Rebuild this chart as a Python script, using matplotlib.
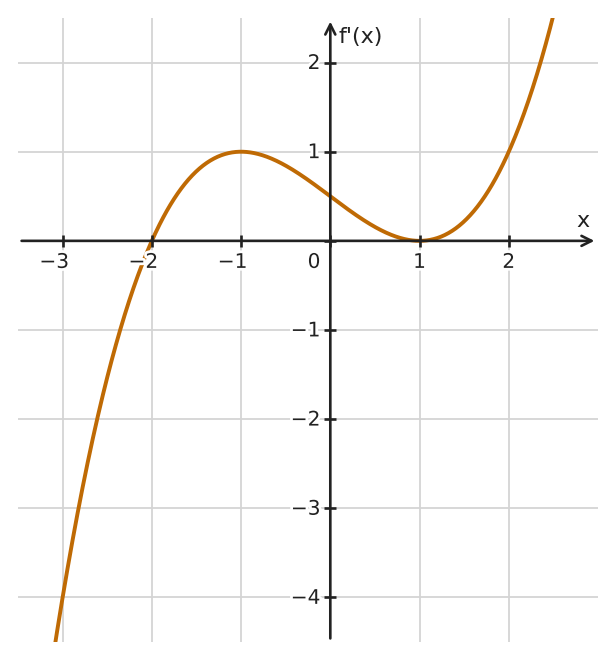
import numpy as np
import matplotlib
matplotlib.use("Agg")
import matplotlib.pyplot as plt
import matplotlib.patheffects as pe
from matplotlib.transforms import offset_copy

# f'(x) = k * (x - r1)(x - r2)(x - r3)
roots = [-2.0, 1.0, 1.0]
scale = 0.25
x_ticks = [-3, -2, -1, 1, 2]
y_ticks = [-4, -3, -2, -1, 1, 2]
x_tick_labels = ["\u22123", "\u22122", "\u22121", "1", "2"]
y_tick_labels = ["\u22124", "\u22123", "\u22122", "\u22121", "1", "2"]

curve_color = "#bf6a04"
axis_color = "#222222"
grid_color = "#d4d4d4"

fig = plt.figure(figsize=(6.16, 6.61), dpi=100)
ax = fig.add_axes([18/616, 19/661, 580/616, 624/661])
ax.set_xlim(-3.5, 3.0)
ax.set_ylim(-4.5, 2.5)
for s in ax.spines.values():
    s.set_visible(False)
ax.set_xticks([])
ax.set_yticks([])

# grid
for gx in [-3, -2, -1, 1, 2]:
    ax.axvline(gx, color=grid_color, lw=1.3, zorder=0)
for gy in [-4, -3, -2, -1, 1, 2]:
    ax.axhline(gy, color=grid_color, lw=1.3, zorder=0)

# curve
xs = np.linspace(-3.5, 3.0, 800)
coeffs = scale * np.poly(roots)
ys = np.polyval(coeffs, xs)
ax.plot(xs, ys, color=curve_color, lw=2.8, zorder=3, solid_capstyle='butt')

# axes with arrows
ax.annotate('', xy=(2.96, 0), xytext=(-3.46, 0),
            arrowprops=dict(arrowstyle='->', lw=1.9, color=axis_color,
                            mutation_scale=18, shrinkA=0, shrinkB=0), zorder=4)
ax.annotate('', xy=(0, 2.46), xytext=(0, -4.46),
            arrowprops=dict(arrowstyle='->', lw=1.9, color=axis_color,
                            mutation_scale=18, shrinkA=0, shrinkB=0), zorder=4)

# tick marks
ax.plot(x_ticks + [0], [0]*(len(x_ticks)+1), linestyle='none', marker='|',
        markersize=9, markeredgewidth=1.9, color=axis_color, zorder=4)
ax.plot([0]*(len(y_ticks)+1), y_ticks + [0], linestyle='none', marker='_',
        markersize=9, markeredgewidth=1.9, color=axis_color, zorder=4)

halo = [pe.withStroke(linewidth=4, foreground='white')]
fs = 14.5
half_digit = 0.318 * fs  # points; center the digit (not the minus) on the tick
for v, lab in zip(x_ticks, x_tick_labels):
    if lab.startswith("\u2212"):
        tr = offset_copy(ax.transData, fig=fig, x=half_digit, y=0, units='points')
        ax.text(v, -0.303, lab, ha='right', va='baseline', fontsize=fs,
                color=axis_color, path_effects=halo, zorder=5, transform=tr)
    else:
        ax.text(v, -0.303, lab, ha='center', va='baseline', fontsize=fs,
                color=axis_color, path_effects=halo, zorder=5)
for v, lab in zip(y_ticks, y_tick_labels):
    ax.text(-0.11, v + 0.012, lab, ha='right', va='center_baseline', fontsize=fs,
            color=axis_color, path_effects=halo, zorder=5)
ax.text(-0.11, -0.303, "0", ha='right', va='baseline', fontsize=fs,
        color=axis_color, path_effects=halo, zorder=5)

ax.text(2.83, 0.22, "x", ha='center', va='center', fontsize=16, color=axis_color, zorder=5)
ax.text(0.09, 2.29, "f'(x)", ha='left', va='center', fontsize=16, color=axis_color, zorder=5)

fig.savefig("out.png", dpi=100, facecolor='white')
